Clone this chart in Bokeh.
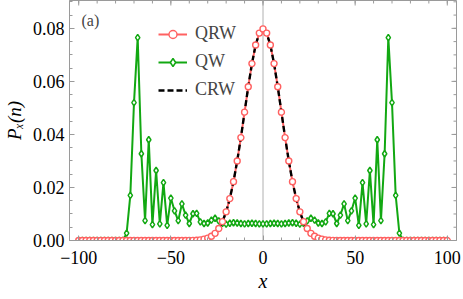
import math
from bokeh.plotting import figure
from bokeh.models import (Range1d, LinearAxis, FixedTicker, Span, Label,
                          Legend, LegendItem)
from bokeh.embed import file_html
from bokeh.resources import INLINE

# ---------------- data ----------------
x_pos = list(range(-100, 101, 2))

qrw = [0.0] * 30 + [
    0.00003, 0.00006, 0.00012, 0.00025, 0.0005, 0.0009, 0.0016, 0.0027, 0.0045, 0.0071,
    0.0108, 0.0158, 0.0222, 0.0300, 0.0388, 0.0484, 0.0580, 0.0667, 0.0737, 0.0782,
    0.0798,
    0.0782, 0.0737, 0.0667, 0.0580, 0.0484, 0.0388, 0.0300, 0.0222, 0.0158, 0.0108,
    0.0071, 0.0045, 0.0027, 0.0016, 0.0009, 0.0005, 0.00025, 0.00012, 0.00006, 0.00003,
] + [0.0] * 30

crw = [0.0] * 30 + [
    0.00003, 0.00006, 0.00012, 0.00025, 0.0005, 0.0009, 0.0016, 0.0027, 0.0045, 0.0071,
    0.0108, 0.0158, 0.0222, 0.0300, 0.0388, 0.0484, 0.0580, 0.0667, 0.0737, 0.0782,
    0.0798,
    0.0782, 0.0737, 0.0667, 0.0580, 0.0484, 0.0388, 0.0300, 0.0222, 0.0158, 0.0108,
    0.0071, 0.0045, 0.0027, 0.0016, 0.0009, 0.0005, 0.00025, 0.00012, 0.00006, 0.00003,
] + [0.0] * 30

qw = [0.0] * 13 + [
    0.0028, 0.0170, 0.0520, 0.0765, 0.0327, 0.0075, 0.0380, 0.0060, 0.0264, 0.0063,
    0.0218, 0.0057, 0.0160, 0.0112, 0.0075, 0.0138, 0.0096, 0.0064, 0.0101, 0.0102,
    0.0070, 0.0064, 0.0066, 0.0077, 0.0084, 0.0074, 0.0065, 0.0062, 0.0065, 0.0067,
    0.0066, 0.0064, 0.0063, 0.0064, 0.0065, 0.0064, 0.0063,
    0.0063,
    0.0063, 0.0064, 0.0065, 0.0064, 0.0063, 0.0064, 0.0066, 0.0067, 0.0065, 0.0062,
    0.0065, 0.0074, 0.0084, 0.0077, 0.0066, 0.0064, 0.0070, 0.0102, 0.0101, 0.0064,
    0.0096, 0.0138, 0.0075, 0.0112, 0.0160, 0.0057, 0.0218, 0.0063, 0.0264, 0.0060,
    0.0380, 0.0075, 0.0327, 0.0765, 0.0520, 0.0170, 0.0028,
] + [0.0] * 13

x_ticks = [-100, -50, 0, 50, 100]
x_tick_labels = ["\u2212100", "\u221250", "0", "50", "100"]
x_minor = list(range(-100, 101, 10))
y_ticks = [0.0, 0.02, 0.04, 0.06, 0.08]
y_tick_labels = ["0.00", "0.02", "0.04", "0.06", "0.08"]
y_minor = [i * 0.005 for i in range(0, 19)]

series_names = ["QRW", "QW", "CRW"]
x_title = "x"
y_title = "P\u2093(n)"

X_LO, X_HI = -105, 105
Y_LO, Y_HI = 0.0, 0.0905

# ---------------- styling ----------------
RED = "#ff6161"
GREEN = "#12a812"
FRAME = "#9a9a9a"
FONT = "Liberation Serif"

p = figure(width=463, height=299, output_backend="svg", toolbar_location=None,
           x_range=Range1d(X_LO, X_HI), y_range=Range1d(Y_LO, Y_HI),
           min_border_left=68, min_border_right=7, min_border_top=0,
           min_border_bottom=59, x_axis_location=None, y_axis_location=None)
p.grid.visible = False
p.outline_line_color = FRAME
p.background_fill_color = "white"
p.border_fill_color = "white"

xt = FixedTicker(ticks=x_ticks, minor_ticks=x_minor)
yt = FixedTicker(ticks=y_ticks, minor_ticks=y_minor)


def style_axis(ax):
    ax.axis_line_color = FRAME
    ax.major_tick_line_color = FRAME
    ax.minor_tick_line_color = FRAME
    ax.major_tick_in = 5
    ax.major_tick_out = 0
    ax.minor_tick_in = 3
    ax.minor_tick_out = 0
    ax.major_label_text_font = FONT
    ax.major_label_text_font_size = "18px"
    ax.major_label_text_color = "black"
    ax.axis_label_text_font = FONT
    ax.axis_label_text_font_style = "italic"
    ax.axis_label_text_color = "black"


xb = LinearAxis(ticker=xt, major_label_overrides=dict(zip(x_ticks, x_tick_labels)))
style_axis(xb)
xb.major_label_standoff = 10
xb.axis_label = x_title
xb.axis_label_text_font_size = "20px"
xb.axis_label_standoff = 3
p.add_layout(xb, "below")

yl = LinearAxis(ticker=yt, major_label_overrides=dict(zip(y_ticks, y_tick_labels)))
style_axis(yl)
yl.major_label_standoff = 5
yl.axis_label = y_title
yl.axis_label_text_font_size = "19px"
yl.axis_label_standoff = 5
p.add_layout(yl, "left")

# ticks on the top and right frame edges (no labels)
p.scatter(x_ticks, [Y_HI] * len(x_ticks), marker="dash", angle=math.pi / 2,
          size=10, line_color=FRAME, line_width=1)
p.scatter(x_minor, [Y_HI] * len(x_minor), marker="dash", angle=math.pi / 2,
          size=6, line_color=FRAME, line_width=1)
p.scatter([X_HI] * len(y_ticks), y_ticks, marker="dash", size=10,
          line_color=FRAME, line_width=1)
p.scatter([X_HI] * len(y_minor), y_minor, marker="dash", size=6,
          line_color=FRAME, line_width=1)

p.add_layout(Span(location=0, dimension="height", line_color="#b0b0b0",
                  line_width=1, level="underlay"))

# ---------------- series ----------------
r_red_line = p.line(x_pos, qrw, line_color=RED, line_width=2)
r_green_line = p.line(x_pos, qw, line_color=GREEN, line_width=2)
r_green_pts = p.scatter(x_pos, qw, marker="diamond", size=6.5, line_color=GREEN,
                        fill_color="white", line_width=1.5)
r_black = p.line(x_pos, crw, line_color="black", line_width=2.4, line_dash="6 3")
r_red_pts = p.scatter(x_pos, qrw, marker="circle", size=6, line_color=RED,
                      fill_color="white", line_width=1.4)

legend = Legend(items=[
    LegendItem(label=series_names[0], renderers=[r_red_line, r_red_pts]),
    LegendItem(label=series_names[1], renderers=[r_green_line, r_green_pts]),
    LegendItem(label=series_names[2], renderers=[r_black]),
], location=(89, 140), border_line_color=None, background_fill_alpha=0,
    label_text_font=FONT, label_text_font_size="18px",
    glyph_width=29, glyph_height=20, label_height=20, spacing=7,
    padding=0, margin=0, label_standoff=8)
p.add_layout(legend)

p.add_layout(Label(x=-98.5, y=0.0831, text="(a)", text_font=FONT,
                   text_font_size="16px", text_baseline="alphabetic"))

open("out.html", "w").write(file_html(p, INLINE))
